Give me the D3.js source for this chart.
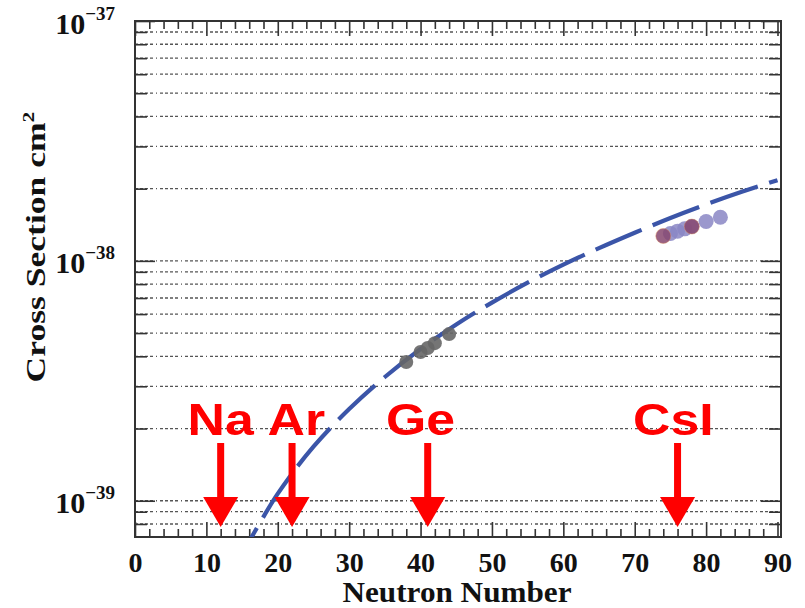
<!DOCTYPE html>
<html><head><meta charset="utf-8">
<script src="https://cdn.jsdelivr.net/npm/d3@7"></script>
<style>body{margin:0;background:#fff}svg{display:block}</style>
</head><body><svg id="c" width="805" height="608"></svg>
<script>
// ---- data ----
const xMajorTicks = [0,10,20,30,40,50,60,70,80,90];
const xMinorTicks = [2,4,6,8,12,14,16,18,22,24,26,28,32,34,36,38,42,44,46,48,52,54,56,58,62,64,66,68,72,74,76,78,82,84,86,88];
const yDecadeTicks = [1e-39,1e-38,1e-37];
const yDecadeExp = ["\u221239","\u221238","\u221237"];
const yMinorTicks = [8e-40,9e-40,2e-39,3e-39,4e-39,5e-39,6e-39,7e-39,8e-39,9e-39,
                     2e-38,3e-38,4e-38,5e-38,6e-38,7e-38,8e-38,9e-38];
const curveN = [15,20,25,30,35,40,45,50,55,60,65,70,75,80,85,90];
const curveSigma = [6.0e-40,1.07e-39,1.68e-39,2.41e-39,3.28e-39,4.29e-39,5.43e-39,6.70e-39,8.11e-39,9.65e-39,1.13e-38,1.31e-38,1.51e-38,1.72e-38,1.94e-38,2.17e-38];
const geN = [38,40,41,42,44];
const geSigma = [3.79e-39,4.17e-39,4.33e-39,4.54e-39,4.95e-39];
const xeN = [75,76,77,78,80,82];
const xeSigma = [1.30e-38,1.33e-38,1.36e-38,1.39e-38,1.46e-38,1.52e-38];
const csiN = [74,78];
const csiSigma = [1.27e-38,1.39e-38];
const targetNames = ["Na","Ar","Ge","CsI"];
const targetArrowN = [12,22,41,76];
const targetLabelN = [12,22.6,40,75.4];

// ---- layout ----
const svg = d3.select("#c");
const L = 135, R = 781, T = 21, B = 537;
const x = d3.scaleLinear().domain([0,90]).range([L, 777.5]);
const y = d3.scaleLog().domain([7.06e-40, 1e-37]).range([B, T]);
const serif = "'Liberation Serif','Times New Roman',serif";
const sans = "'Liberation Sans',Arial,sans-serif";

svg.append("rect").attr("width",805).attr("height",608).attr("fill","#fff");

// grid lines
const grid = svg.append("g");
grid.selectAll("line").data(yDecadeTicks.slice(0,2).concat(yMinorTicks)).join("line")
  .attr("x1", L).attr("x2", R)
  .attr("y1", d => y(d)).attr("y2", d => y(d))
  .attr("stroke", "#555").attr("stroke-width", 1.3)
  .attr("stroke-dasharray", "3,2,3,2,3,2,3,3,1,3");

function styleAxis(g){
  g.select(".domain").remove();
  g.selectAll(".tick line").attr("stroke","#333").attr("stroke-width",1.6);
}

// x axes
svg.append("g").attr("transform",`translate(0,${B})`)
  .call(d3.axisBottom(x).tickValues(xMajorTicks).tickSize(-15).tickPadding(15))
  .call(styleAxis)
  .call(g => g.selectAll("text").attr("font-family", serif).attr("font-weight","bold")
      .attr("font-size", 28).attr("fill","#111"));
svg.append("g").attr("transform",`translate(0,${B})`)
  .call(d3.axisBottom(x).tickValues(xMinorTicks).tickSize(-8).tickFormat(""))
  .call(styleAxis);
svg.append("g").attr("transform",`translate(0,${T})`)
  .call(d3.axisTop(x).tickValues(xMajorTicks).tickSize(-15).tickFormat(""))
  .call(styleAxis);
svg.append("g").attr("transform",`translate(0,${T})`)
  .call(d3.axisTop(x).tickValues(xMinorTicks).tickSize(-8).tickFormat(""))
  .call(styleAxis);

// y axes
const yMajAxis = svg.append("g").attr("transform",`translate(${L},0)`)
  .call(d3.axisLeft(y).tickValues(yDecadeTicks).tickSize(-20).tickFormat(""))
  .call(styleAxis);
svg.append("g").attr("transform",`translate(${L},0)`)
  .call(d3.axisLeft(y).tickValues(yMinorTicks).tickSize(-12).tickFormat(""))
  .call(styleAxis);
svg.append("g").attr("transform",`translate(${R},0)`)
  .call(d3.axisRight(y).tickValues(yDecadeTicks).tickSize(-20).tickFormat(""))
  .call(styleAxis);
svg.append("g").attr("transform",`translate(${R},0)`)
  .call(d3.axisRight(y).tickValues(yMinorTicks).tickSize(-12).tickFormat(""))
  .call(styleAxis);

// y decade labels 10^-n
yMajAxis.selectAll(".tick").each(function(d,i){
  const t = d3.select(this).append("text")
    .attr("x", -20).attr("y", 12)
    .attr("text-anchor","end").attr("fill","#111")
    .attr("font-family", serif).attr("font-weight","bold");
  t.append("tspan").attr("font-size",30).text("10");
  t.append("tspan").attr("font-size",19).attr("dy",-14).text(yDecadeExp[i]);
});

// frame
svg.append("rect").attr("x",L).attr("y",T).attr("width",R-L).attr("height",B-T)
  .attr("fill","none").attr("stroke","#333").attr("stroke-width",2);

// axis titles
svg.append("text").attr("transform","translate(457,602) scale(1.04,1)").attr("text-anchor","middle")
  .attr("font-family", serif).attr("font-weight","bold").attr("font-size",30).attr("fill","#111")
  .text("Neutron Number");
const yt = svg.append("text").attr("transform","translate(45,247) rotate(-90) scale(1.27,1)")
  .attr("text-anchor","middle").attr("font-family", serif).attr("font-weight","bold")
  .attr("font-size",28).attr("fill","#111");
yt.append("tspan").text("Cross Section cm");
yt.append("tspan").attr("font-size",17).attr("dy",-11).text("2");

// clip
svg.append("clipPath").attr("id","clip").append("rect")
  .attr("x",L).attr("y",T).attr("width",R-L).attr("height",B-T);

// curve
const curveData = curveN.map((n,i)=>[n, curveSigma[i]]);
svg.append("path").datum(curveData).attr("clip-path","url(#clip)")
  .attr("d", d3.line().x(d=>x(d[0])).y(d=>y(d[1])).curve(d3.curveCatmullRom))
  .attr("fill","none").attr("stroke","#3b55a8").attr("stroke-width",4.2)
  .attr("stroke-dasharray","50,12").attr("stroke-dashoffset",20);

// Ge points
svg.append("g").selectAll("circle").data(geN.map((n,i)=>[n,geSigma[i]])).join("circle")
  .attr("cx", d=>x(d[0])).attr("cy", d=>y(d[1])).attr("r",7)
  .attr("fill","#666").attr("fill-opacity",0.9);
// Xe points
svg.append("g").selectAll("circle").data(xeN.map((n,i)=>[n,xeSigma[i]])).join("circle")
  .attr("cx", d=>x(d[0])).attr("cy", d=>y(d[1])).attr("r",7.5)
  .attr("fill","#8a86c4").attr("fill-opacity",0.85);
// CsI points
svg.append("g").selectAll("circle").data(csiN.map((n,i)=>[n,csiSigma[i]])).join("circle")
  .attr("cx", d=>x(d[0])).attr("cy", d=>y(d[1])).attr("r",7.5)
  .attr("fill","#86466f").attr("fill-opacity",0.85)
  .attr("stroke","#e08a50").attr("stroke-opacity",0.5).attr("stroke-width",0.8);

// target arrows
const arrows = svg.append("g");
targetArrowN.forEach((n,i)=>{
  const cx = x(n);
  arrows.append("rect").attr("x", cx-3.5).attr("y", 443).attr("width",7).attr("height",56)
    .attr("fill","#ff0000");
  arrows.append("path")
    .attr("d", `M${cx-17.5},497 L${cx+17.5},497 L${cx},527 Z`).attr("fill","#ff0000");
  arrows.append("text").attr("transform", `translate(${x(targetLabelN[i])},435) scale(1.15,1)`)
    .attr("text-anchor","middle").attr("font-family", sans).attr("font-weight","bold")
    .attr("font-size",45).attr("fill","#ff0000").text(targetNames[i]);
});
</script></body></html>
